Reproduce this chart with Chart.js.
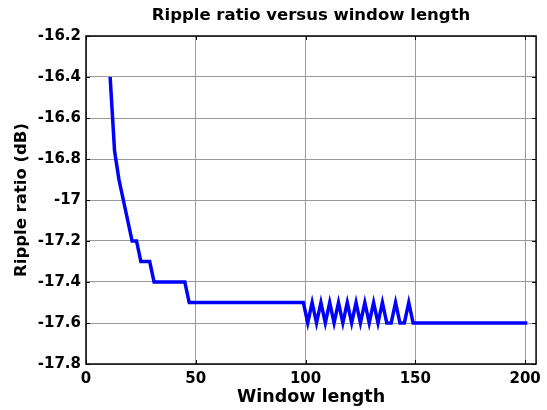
<!DOCTYPE html>
<html>
<head>
<meta charset="utf-8">
<script src="https://cdn.jsdelivr.net/npm/chart.js@4/dist/chart.umd.min.js"></script>
<style>
  html, body { margin: 0; padding: 0; background: #fff; }
  #wrap { width: 547px; height: 410px; }
</style>
</head>
<body>
<div id="wrap"><canvas id="chart" width="547" height="410"></canvas></div>
<script>
// Window length (odd sizes) and the ripple ratio
const windowLength = [
  11, 13, 15, 17, 19, 21, 23, 25, 27, 29,
  31, 33, 35, 37, 39, 41, 43, 45,
  47, 49, 51, 53, 55, 57, 59, 61, 63, 65, 67, 69, 71, 73, 75, 77, 79, 81, 83, 85, 87, 89, 91, 93, 95, 97, 99,
  101, 103, 105, 107, 109, 111, 113, 115, 117, 119, 121, 123, 125, 127, 129, 131, 133, 135, 137, 139, 141, 143, 145, 147,
  149, 151, 153, 155, 157, 159, 161, 163, 165, 167, 169, 171, 173, 175, 177, 179, 181, 183, 185, 187, 189, 191, 193, 195, 197, 199, 201
];
const rippleDb = [
  -16.4, -16.76, -16.9, -17.0, -17.1, -17.2, -17.2, -17.3, -17.3, -17.3,
  -17.4, -17.4, -17.4, -17.4, -17.4, -17.4, -17.4, -17.4,
  -17.5, -17.5, -17.5, -17.5, -17.5, -17.5, -17.5, -17.5, -17.5, -17.5, -17.5, -17.5, -17.5, -17.5,
  -17.5, -17.5, -17.5, -17.5, -17.5, -17.5, -17.5, -17.5, -17.5, -17.5, -17.5, -17.5, -17.5,
  -17.6, -17.5, -17.6, -17.5, -17.6, -17.5, -17.6, -17.5, -17.6, -17.5, -17.6, -17.5,
  -17.6, -17.5, -17.6, -17.5, -17.6, -17.5, -17.6, -17.6, -17.5, -17.6, -17.6, -17.5,
  -17.6, -17.6, -17.6, -17.6, -17.6, -17.6, -17.6, -17.6, -17.6, -17.6, -17.6, -17.6, -17.6, -17.6,
  -17.6, -17.6, -17.6, -17.6, -17.6, -17.6, -17.6, -17.6, -17.6, -17.6, -17.6, -17.6, -17.6
];
const xTicks = [0, 50, 100, 150, 200];
const yTicks = [-17.8, -17.6, -17.4, -17.2, -17, -16.8, -16.6, -16.4, -16.2];

const FONT = '"DejaVu Sans", sans-serif';

// MATLAB style box: black frame and inward tick marks, title over the axes
const boxPlugin = {
  id: 'matlabBox',
  afterDraw(chart) {
    const { ctx, chartArea: a, scales } = chart;
    ctx.save();
    ctx.strokeStyle = '#000';
    ctx.lineWidth = 1;
    ctx.beginPath();
    xTicks.forEach(v => {
      const px = Math.round(scales.x.getPixelForValue(v)) + 0.5;
      ctx.moveTo(px, a.bottom); ctx.lineTo(px, a.bottom - 4);
      ctx.moveTo(px, a.top); ctx.lineTo(px, a.top + 4);
    });
    yTicks.forEach(v => {
      const py = Math.round(scales.y.getPixelForValue(v)) + 0.5;
      ctx.moveTo(a.left, py); ctx.lineTo(a.left + 4, py);
      ctx.moveTo(a.right, py); ctx.lineTo(a.right - 4, py);
    });
    ctx.stroke();
    ctx.lineWidth = 1.5;
    ctx.strokeRect(a.left, a.top, a.right - a.left, a.bottom - a.top);

    ctx.fillStyle = '#000';
    ctx.font = 'bold 16.5px ' + FONT;
    ctx.textAlign = 'center';
    ctx.textBaseline = 'middle';
    ctx.fillText('Ripple ratio versus window length', (a.left + a.right) / 2, 16);
    ctx.restore();
  }
};

const ctx = document.getElementById('chart').getContext('2d');
new Chart(ctx, {
  type: 'line',
  data: {
    datasets: [{
      label: 'Ripple ratio',
      data: windowLength.map((x, i) => ({ x: x, y: rippleDb[i] })),
      borderColor: '#0000ff',
      borderWidth: 3.5,
      pointRadius: 0,
      tension: 0,
      fill: false
    }]
  },
  options: {
    responsive: false,
    animation: false,
    layout: { padding: { top: 36, right: 10, left: 0, bottom: 0 } },
    plugins: {
      legend: { display: false },
      tooltip: { enabled: false }
    },
    scales: {
      x: {
        type: 'linear',
        min: 0,
        max: 205,
        afterFit: s => { s.height = 46; },
        ticks: {
          stepSize: 50,
          includeBounds: false,
          padding: 6,
          color: '#000',
          font: { family: FONT, size: 15, weight: 'bold' }
        },
        grid: { color: '#9a9a9a', lineWidth: 1, drawTicks: false },
        border: { display: false },
        title: {
          display: true,
          text: 'Window length',
          color: '#000',
          font: { family: FONT, size: 17.5, weight: 'bold' },
          padding: { top: 0, bottom: 2 }
        }
      },
      y: {
        min: -17.8,
        max: -16.2,
        afterFit: s => { s.width = 86; },
        ticks: {
          stepSize: 0.2,
          padding: 5,
          color: '#000',
          font: { family: FONT, size: 15, weight: 'bold' },
          callback: v => String(Number(v.toFixed(1)))
        },
        grid: { color: '#9a9a9a', lineWidth: 1, drawTicks: false },
        border: { display: false },
        title: {
          display: true,
          text: 'Ripple ratio (dB)',
          color: '#000',
          font: { family: FONT, size: 16.5, weight: 'bold' },
          padding: { top: 12, bottom: 0 }
        }
      }
    }
  },
  plugins: [boxPlugin]
});
</script>
</body>
</html>
